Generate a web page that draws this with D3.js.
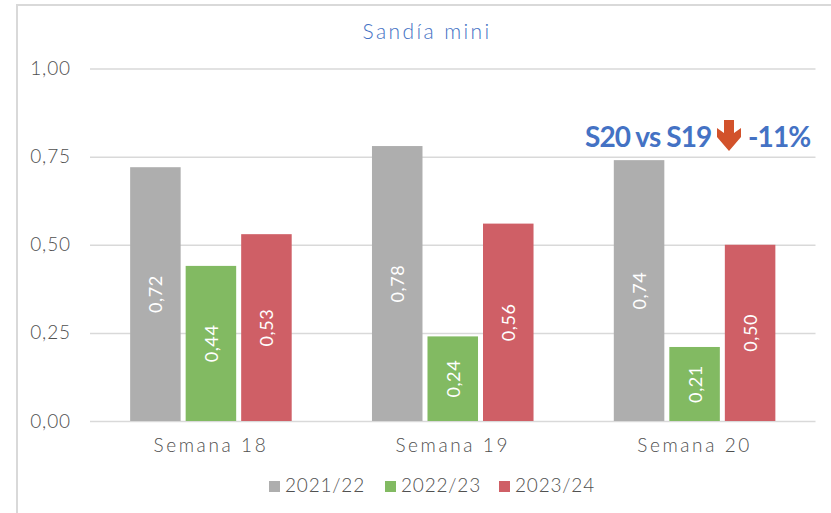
<!DOCTYPE html>
<html><head><meta charset="utf-8">
<script src="https://cdn.jsdelivr.net/npm/d3@7"></script>
<style>html,body{margin:0;padding:0;background:#fff}svg{display:block}</style>
</head><body><svg id="c" width="831" height="513"></svg>
<script>
const weeks = ["Semana 18","Semana 19","Semana 20"];
const seasons = ["2021/22","2022/23","2023/24"];
const colors = ["#AEAEAE","#82BA62","#CF5F66"];
const s2122 = [0.72,0.78,0.74];
const s2223 = [0.44,0.24,0.21];
const s2324 = [0.53,0.56,0.50];
const ticks = [0,0.25,0.5,0.75,1];
const font = "'Lato','Open Sans',sans-serif";
const textColor = "#505050";
const fmt = v => v.toFixed(2).replace(".",",");
const svg = d3.select("#c");
svg.append("path").attr("d","M17,513V5H831").attr("fill","none").attr("stroke","#D9D9D9").attr("stroke-width",2);
const y = d3.scaleLinear().domain([0,1]).range([421,68.5]);
const x0 = d3.scaleBand().domain(weeks).range([90,815.5]);
const x1 = d3.scaleBand().domain(seasons).range([0,x0.bandwidth()]).paddingInner(0.09).paddingOuter(0.723);
const gAxis = svg.append("g").attr("transform","translate(90,0)")
  .call(d3.axisLeft(y).tickValues(ticks).tickFormat(fmt).tickSize(-725.5).tickPadding(19));
gAxis.select(".domain").remove();
gAxis.selectAll("line").attr("stroke","#D9D9D9").attr("stroke-width",1.5);
gAxis.selectAll("text").attr("fill",textColor).attr("font-family",font).attr("font-weight",300).attr("font-size",19).attr("letter-spacing",0.9);
[s2122,s2223,s2324].forEach((vals,i)=>{
  const g = svg.append("g").selectAll("g").data(vals).join("g");
  g.append("rect").attr("x",(d,j)=>x0(weeks[j])+x1(seasons[i])).attr("y",d=>y(d))
    .attr("width",x1.bandwidth()).attr("height",d=>y(0)-y(d)).attr("fill",colors[i]);
  g.append("text").text(fmt).attr("fill","#fff").attr("font-family",font).attr("font-weight",400).attr("font-size",18).attr("letter-spacing",0.6)
    .attr("text-anchor","middle").attr("dominant-baseline","central")
    .attr("transform",(d,j)=>`translate(${x0(weeks[j])+x1(seasons[i])+x1.bandwidth()/2},${(y(d)+y(0))/2}) rotate(-90)`);
});
svg.append("g").selectAll("text").data(weeks).join("text").text(d=>d)
  .attr("x",d=>x0(d)+x0.bandwidth()/2).attr("y",452).attr("text-anchor","middle")
  .attr("fill",textColor).attr("font-family",font).attr("font-weight",300).attr("font-size",19).attr("letter-spacing",2.6);
svg.append("text").text("Sandía mini").attr("x",427).attr("y",39).attr("text-anchor","middle")
  .attr("fill","#4472C4").attr("font-family",font).attr("font-weight",300).attr("font-size",21).attr("letter-spacing",2.4);
const legendX = [269,385,499];
const lg = svg.append("g").selectAll("g").data(seasons).join("g").attr("transform",(d,i)=>`translate(${legendX[i]},0)`);
lg.append("rect").attr("y",481).attr("width",11).attr("height",11).attr("fill",(d,i)=>colors[i]);
lg.append("text").text(d=>d).attr("x",16).attr("y",492).attr("fill",textColor).attr("font-family",font).attr("font-weight",300).attr("font-size",19).attr("letter-spacing",0.8);
svg.append("rect").attr("x",582).attr("y",118).attr("width",236).attr("height",38).attr("fill","#fff");
const cb = svg.append("g").attr("font-family",font).attr("font-weight",700).attr("font-size",28).attr("letter-spacing",-0.9).attr("fill","#4472C4");
cb.append("text").text("S20 vs S19").attr("x",585).attr("y",147);
cb.append("text").text("-11%").attr("x",748).attr("y",147);
svg.append("path").attr("d",d3.line()([[724,120],[734,120],[734,133],[741,128],[741,137],[729,151],[717,137],[717,128],[724,133]])+"Z").attr("fill","#D2522B");
</script></body></html>
